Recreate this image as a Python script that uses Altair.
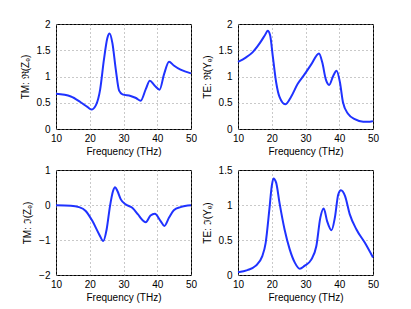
import altair as alt
import pandas as pd

# Top-left: TM Re(Z_e)
tl_f = [10, 14.4, 17.3, 19.3, 20.5, 21.8, 23.1, 24.2, 25.2, 25.9, 26.7, 27.7, 28.7, 29.7, 32.1, 33.7, 35.1, 36.6, 37.8, 39.2, 40.7, 42.0, 43.5, 44.9, 46.9, 50]
tl_v = [0.67, 0.62, 0.51, 0.42, 0.37, 0.45, 0.76, 1.32, 1.73, 1.82, 1.64, 1.14, 0.73, 0.66, 0.63, 0.59, 0.54, 0.76, 0.92, 0.83, 0.75, 1.04, 1.28, 1.21, 1.13, 1.06]

# Top-right: TE Re(Y_e)
tr_f = [10, 12.3, 14.3, 16.4, 18.0, 18.8, 19.5, 20.3, 21.3, 22.3, 24.0, 25.7, 27.7, 29.7, 31.7, 34.0, 35.0, 36.0, 37.0, 38.2, 39.2, 40.2, 41.1, 42.6, 44.6, 47.1, 49.1, 50]
tr_v = [1.28, 1.36, 1.46, 1.63, 1.79, 1.87, 1.79, 1.39, 0.89, 0.61, 0.47, 0.61, 0.86, 1.04, 1.23, 1.44, 1.26, 0.95, 0.84, 1.01, 1.11, 0.89, 0.51, 0.29, 0.19, 0.14, 0.14, 0.15]

# Bottom-left: TM Im(Z_e)
bl_f = [10, 14.4, 16.8, 18.8, 20.8, 22.8, 24.0, 25.0, 26.0, 26.9, 27.5, 28.2, 29.2, 30.6, 32.6, 34.3, 35.6, 36.6, 38.0, 39.3, 41.0, 42.1, 43.5, 44.9, 46.9, 50]
bl_v = [-0.01, -0.02, -0.06, -0.17, -0.46, -0.84, -1.03, -0.70, -0.03, 0.40, 0.51, 0.40, 0.16, 0.02, -0.08, -0.27, -0.43, -0.49, -0.30, -0.25, -0.46, -0.60, -0.36, -0.15, -0.06, -0.01]

# Bottom-right: TE Im(Y_e)
br_f = [10, 12.8, 15.2, 17.2, 18.2, 19.3, 20.0, 20.5, 21.3, 22.3, 23.8, 25.3, 26.8, 28.3, 29.7, 31.7, 33.2, 34.4, 35.4, 36.4, 37.7, 38.7, 39.7, 40.5, 41.7, 43.1, 45.1, 47.6, 50]
br_v = [0.04, 0.07, 0.13, 0.27, 0.46, 0.94, 1.27, 1.38, 1.32, 1.03, 0.65, 0.37, 0.18, 0.09, 0.13, 0.22, 0.41, 0.82, 0.95, 0.77, 0.64, 0.82, 1.15, 1.21, 1.13, 0.87, 0.65, 0.46, 0.25]

x_ticks = [10, 20, 30, 40, 50]
FONT = "Liberation Sans"
BLUE = "#1f32ff"


def panel(f, v, ytitle, ydom, yticks):
    df = pd.DataFrame({"f": f, "v": v})
    return alt.Chart(df).mark_line(interpolate="monotone", color=BLUE, strokeWidth=2).encode(
        x=alt.X("f:Q", scale=alt.Scale(domain=[10, 50], nice=False, zero=False),
                axis=alt.Axis(values=x_ticks, title="Frequency (THz)", labelFlush=False,
                              labelPadding=4, titlePadding=3)),
        y=alt.Y("v:Q", scale=alt.Scale(domain=ydom, nice=False, zero=False),
                axis=alt.Axis(values=yticks, title=ytitle, labelFlush=False, format="~g",
                              labelPadding=6, titlePadding=6)),
    ).properties(width=135, height=105)


tl = panel(tl_f, tl_v, "TM: ℜ(Zₑ)", [0, 2], [0, 0.5, 1, 1.5, 2])
tr = panel(tr_f, tr_v, "TE: ℜ(Yₑ)", [0, 2], [0, 0.5, 1, 1.5, 2])
bl = panel(bl_f, bl_v, "TM: ℑ(Zₑ)", [-2, 1], [-2, -1, 0, 1])
br = panel(br_f, br_v, "TE: ℑ(Yₑ)", [0, 1.5], [0, 0.5, 1, 1.5])

chart = alt.concat(
    tl, tr, bl, br, columns=2, spacing={"row": 41, "column": 47}, bounds="flush",
).properties(
    padding={"top": 10, "left": 11, "right": 5, "bottom": 5},
    background="white",
).configure_view(
    stroke="black", strokeWidth=1
).configure_axis(
    labelFont=FONT, titleFont=FONT, labelFontSize=10, titleFontSize=10,
    titleFontWeight="normal", labelColor="black", titleColor="black",
    domain=False, ticks=False,
    grid=True, gridColor="#888888", gridDash=[1, 3], gridWidth=1, gridOpacity=0.9,
)

chart.save("out.html", embed_options={"renderer": "svg", "actions": False})
